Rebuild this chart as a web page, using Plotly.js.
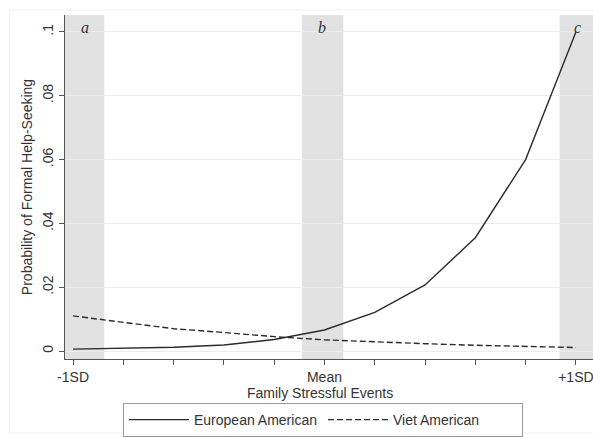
<!DOCTYPE html>
<html>
<head>
<meta charset="utf-8">
<script src="https://cdn.plot.ly/plotly-3.0.1.min.js"></script>
<style>
  html, body { margin: 0; padding: 0; background: #ffffff; }
  #chart { width: 593px; height: 437px; }
</style>
</head>
<body>
<div id="chart"></div>
<script>
// Family stressful events, in SD units from the mean
const stressLevels = [-1, -0.8, -0.6, -0.4, -0.2, 0, 0.2, 0.4, 0.6, 0.8, 1];
// Predicted probability of formal help-seeking by group
const europeanAmerican = [0.0006, 0.0008, 0.0012, 0.0019, 0.0036, 0.0066, 0.0121, 0.0207, 0.0355, 0.0600, 0.1000];
const vietAmerican = [0.0110, 0.0090, 0.0070, 0.0058, 0.0045, 0.0035, 0.0028, 0.0023, 0.0018, 0.0014, 0.0011];
// x-axis tick labels (only -1SD, mean, +1SD are labelled)
const xTickLabels = ['-1SD', '', '', '', '', 'Mean', '', '', '', '', '+1SD'];
// y-axis ticks
const yTickVals = [0, 0.02, 0.04, 0.06, 0.08, 0.1];
const yTickLabels = ['0', '.02', '.04', '.06', '.08', '.1'];
// highlighted regions and their letters
const regionLabels = ['a', 'b', 'c'];
const regionStart = [-1.04, -0.09, 0.935];
const regionEnd = [-0.876, 0.075, 1.07];
const regionLabelX = [-0.952, -0.01, 1.008];

const ink = '#2b2b2b';
const font = 'Liberation Sans, Arial, sans-serif';
const textSize = 14;

const traces = [
  {
    x: stressLevels, y: europeanAmerican, name: 'European American',
    type: 'scatter', mode: 'lines',
    line: { color: ink, width: 1.4, dash: 'solid' }
  },
  {
    x: stressLevels, y: vietAmerican, name: 'Viet American',
    type: 'scatter', mode: 'lines',
    line: { color: ink, width: 1.4, dash: '6px,3px' }
  }
];

const shapes = regionLabels.map((_, i) => ({
  type: 'rect', xref: 'x', yref: 'paper',
  x0: regionStart[i], x1: regionEnd[i], y0: 0, y1: 1,
  fillcolor: '#e2e2e2', line: { width: 0 }, layer: 'below'
}));
// faint outer frame of the graph region
shapes.push({
  type: 'rect', xref: 'paper', yref: 'paper',
  x0: -0.105, x1: 1.02, y0: -0.215, y1: 1.015,
  line: { color: '#f0f0f0', width: 1 }, layer: 'below'
});

const annotations = regionLabels.map((t, i) => ({
  text: t, xref: 'x', yref: 'paper', x: regionLabelX[i], y: 0.965,
  showarrow: false, xanchor: 'center', yanchor: 'middle',
  font: { family: 'Liberation Serif, Times New Roman, serif', size: 16, color: '#333', style: 'italic' }
}));
annotations.push({
  text: 'Family Stressful Events', xref: 'paper', yref: 'paper',
  x: (320 - 65) / 528, y: -0.1, showarrow: false,
  xanchor: 'center', yanchor: 'middle',
  font: { family: font, size: textSize, color: '#333' }
});

const layout = {
  width: 593, height: 437,
  margin: { l: 65, r: 0, t: 15, b: 77 },
  paper_bgcolor: '#ffffff', plot_bgcolor: '#ffffff',
  font: { family: font, color: '#333' },
  showlegend: true,
  legend: {
    orientation: 'h', x: (323 - 65) / 528, xanchor: 'center',
    y: -0.128, yanchor: 'top',
    bordercolor: '#999', borderwidth: 1, bgcolor: '#ffffff',
    font: { family: font, size: textSize, color: '#333' },
    entrywidth: 124, itemwidth: 60, traceorder: 'normal'
  },
  xaxis: {
    range: [-1.032, 1.068],
    tickmode: 'array', tickvals: stressLevels, ticktext: xTickLabels,
    ticks: 'outside', ticklen: 5, tickcolor: '#555',
    ticklabeloverflow: 'allow',
    showline: true, linecolor: '#555', linewidth: 1,
    showgrid: false, zeroline: false,
    tickfont: { family: font, size: textSize, color: '#333' }
  },
  yaxis: {
    range: [-0.0025, 0.1053],
    tickmode: 'array', tickvals: yTickVals, ticktext: yTickLabels,
    tickangle: -90,
    ticks: 'outside', ticklen: 5, tickcolor: '#555',
    showline: true, linecolor: '#555', linewidth: 1,
    showgrid: true, gridcolor: '#ececec', gridwidth: 1, zeroline: false,
    tickfont: { family: font, size: textSize, color: '#333' },
    title: { text: 'Probability of Formal Help-Seeking', standoff: 4,
             font: { family: font, size: textSize, color: '#333' } }
  },
  shapes: shapes,
  annotations: annotations
};

Plotly.newPlot('chart', traces, layout, { displayModeBar: false, staticPlot: true });
</script>
</body>
</html>
